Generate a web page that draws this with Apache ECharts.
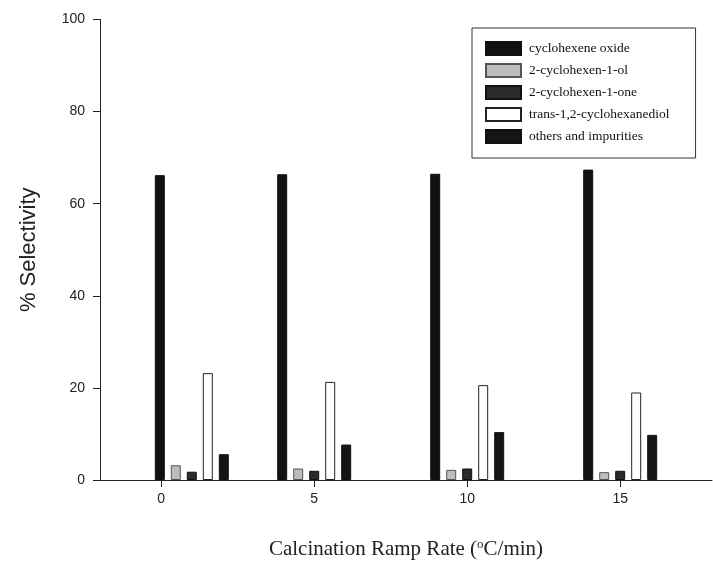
<!DOCTYPE html>
<html>
<head>
<meta charset="utf-8">
<script src="https://cdn.jsdelivr.net/npm/echarts@6/dist/echarts.min.js"></script>
<style>
html,body{margin:0;padding:0;background:#fff;}
#chart{width:713px;height:566px;}
</style>
</head>
<body>
<div id="chart"></div>
<script>
// Calcination ramp rates (x positions of bar groups), tick labels
const rampRates = [1, 5, 10, 15];
const xTicks = [0, 5, 10, 15];
const yTicks = [0, 20, 40, 60, 80, 100];
const seriesNames = [
  'cyclohexene oxide',
  '2-cyclohexen-1-ol',
  '2-cyclohexen-1-one',
  'trans-1,2-cyclohexanediol',
  'others and impurities'
];
const cycloOxide = [66.2, 66.4, 66.5, 67.4];
const cyclohexenol = [3.2, 2.5, 2.2, 1.7];
const cyclohexenone = [1.8, 2.0, 2.5, 2.0];
const diol = [23.2, 21.3, 20.6, 19.0];
const others = [5.6, 7.7, 10.4, 9.8];

const values = [cycloOxide, cyclohexenol, cyclohexenone, diol, others];
const fills = ['#111111', '#bdbdbd', '#2b2b2b', '#ffffff', '#151515'];
const borders = ['#111111', '#555555', '#111111', '#222222', '#111111'];

const chart = echarts.init(document.getElementById('chart'));
const series = seriesNames.map((name, si) => ({
  name: name,
  type: 'bar',
  barWidth: 10,
  barGap: '60%',
  itemStyle: { color: fills[si], borderColor: borders[si], borderWidth: 1 },
  data: rampRates.map((x, i) => [x, values[si][i]])
}));

chart.setOption({
  animation: false,
  backgroundColor: '#ffffff',
  grid: { left: 100, right: 1, top: 19.5, bottom: 86, containLabel: false },
  xAxis: {
    type: 'value',
    min: -2,
    max: 18,
    splitLine: { show: false },
    axisLine: { show: true, onZero: false, lineStyle: { color: '#222', width: 1 } },
    axisTick: { show: true, customValues: xTicks, length: 7, lineStyle: { color: '#222' } },
    axisLabel: { customValues: xTicks, fontFamily: 'Liberation Sans, Arial', fontSize: 14, color: '#222', margin: 12 },
    name: 'Calcination Ramp Rate ({sup|o}C/min)',
    nameLocation: 'middle',
    nameGap: 58,
    nameTextStyle: {
      fontFamily: 'Liberation Serif, Times New Roman', fontSize: 21, color: '#222',
      rich: { sup: { fontFamily: 'Liberation Serif', fontSize: 13, color: '#222', verticalAlign: 'top', padding: [0, 0, 10, 0] } }
    }
  },
  yAxis: {
    type: 'value',
    min: 0,
    max: 100,
    interval: 20,
    splitLine: { show: false },
    axisLine: { show: true, onZero: false, lineStyle: { color: '#222', width: 1 } },
    axisTick: { show: true, length: 7, lineStyle: { color: '#222' } },
    axisLabel: { fontFamily: 'Liberation Sans, Arial', fontSize: 14, color: '#222', margin: 15,
      formatter: v => yTicks.includes(v) ? String(v) : '' },
    name: '% Selectivity',
    nameLocation: 'middle',
    nameGap: 60,
    nameTextStyle: { fontFamily: 'Liberation Sans, Arial', fontSize: 22, color: '#222' }
  },
  legend: {
    orient: 'vertical',
    left: 472,
    top: 28,
    itemWidth: 35,
    itemHeight: 13,
    itemGap: 7,
    icon: 'rect',
    padding: [13, 26, 14, 13],
    borderColor: '#333',
    borderWidth: 1,
    selectedMode: false,
    textStyle: { fontFamily: 'Liberation Serif, Times New Roman', fontSize: 13.5, color: '#111', padding: [0, 0, 0, 3] },
    data: seriesNames
  },
  series: series
});
</script>
</body>
</html>
